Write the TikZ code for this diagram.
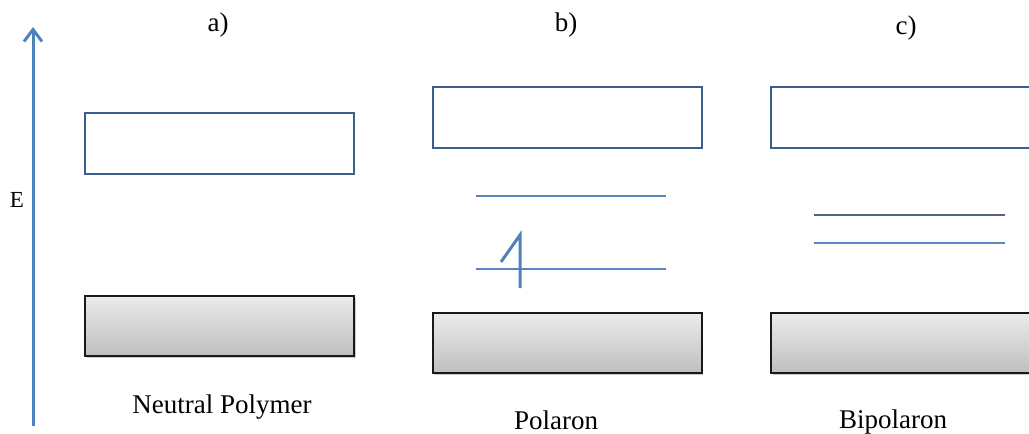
\documentclass[tikz,border=0pt]{standalone}
\usepackage{fontspec}
\setmainfont{Liberation Serif}
\usetikzlibrary{arrows.meta,shadows}
\definecolor{arrowblue}{HTML}{4F81BD}
\definecolor{boxblue}{HTML}{3A5F8E}
\definecolor{levelblue}{HTML}{5B84C0}
\definecolor{levelgray}{HTML}{55637A}
\tikzset{
  lumo/.style={draw=boxblue, line width=2.6pt, fill=white, minimum width=269pt, minimum height=61pt, inner sep=0pt},
  homo/.style={draw=black!90, line width=2pt, top color=black!8, bottom color=black!25, minimum width=269pt, minimum height=60pt, inner sep=0pt,
    drop shadow={shadow xshift=1.5pt, shadow yshift=-2pt, opacity=0.2, fill=black}},
  level/.style={draw=levelblue, line width=1.3pt},
  lbl/.style={font=\fontsize{27}{31}\selectfont, inner sep=0pt, anchor=base}
}
\begin{document}
\begin{tikzpicture}[x=1pt,y=-1pt]
\useasboundingbox (0,0) rectangle (1029,434);
\clip (0,0) rectangle (1029,434);
% energy axis
\coordinate (axbot) at (33,426);
\coordinate (axtop) at (33,27);
\draw[arrowblue, line width=3pt, -{Straight Barb[length=12pt,width=18pt,line width=3pt]}] (axbot) -- (axtop);
\node[lbl, font=\fontsize{23}{27}\selectfont] (E) at (17,207) {E};
% panel labels
\node[lbl] (la) at (218,31) {a)};
\node[lbl] (lb) at (566,31) {b)};
\node[lbl] (lc) at (906,34) {c)};
% a) neutral polymer
\node[lumo] (aL) at (219.5,143.5) {};
\node[homo] (aH) at (219.5,326) {};
\node[lbl] (na) at (222,413) {Neutral Polymer};
% b) polaron
\node[lumo] (bL) at (567.5,117.5) {};
\node[homo] (bH) at (567,343) {};
\draw[level] (476,196) -- (666,196);
\draw[level] (476,269) -- (666,269);
\draw[arrowblue, line width=3pt, line join=miter] (501,262) -- (520,235) -- (520,288);
\node[lbl] (nb) at (556,429) {Polaron};
% c) bipolaron
\node[lumo] (cL) at (905.5,117.5) {};
\node[homo] (cH) at (905.5,343) {};
\draw[level, draw=levelgray] (814,215) -- (1005,215);
\draw[level] (814,243) -- (1005,243);
\node[lbl] (nc) at (893,428) {Bipolaron};
\end{tikzpicture}
\end{document}
